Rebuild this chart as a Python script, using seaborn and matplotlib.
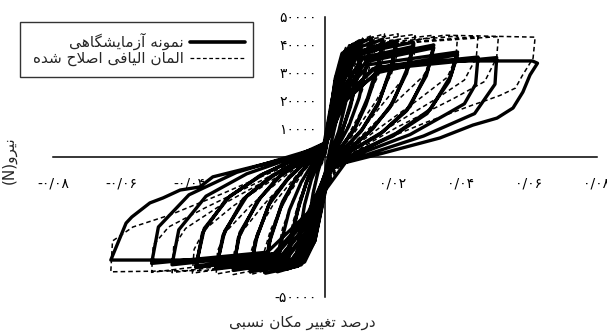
import matplotlib
matplotlib.use("Agg")
import matplotlib.pyplot as plt
from matplotlib.patches import Rectangle
from matplotlib.lines import Line2D
import seaborn as sns

# ---------------- data ----------------
# Experimental specimen: hysteresis path, one cycle per line (drift ratio, force in N)
exp_drift = [
    -0.001, 0.001, 0.003, 0.005, 0.0045, 0.0035, 0.002, 0.001, -0.001, -0.003, -0.005, -0.0045, -0.0035, -0.002, -0.001,
    -0.001, 0.002, 0.004, 0.008, 0.0075, 0.006, 0.004, 0.0015, -0.001, -0.003, -0.005, -0.008, -0.0075, -0.006, -0.004, -0.0015,
    0.000, 0.003, 0.005, 0.0105, 0.0098, 0.008, 0.0055, 0.0025, 0.000, -0.003, -0.006, -0.011, -0.0102, -0.008, -0.0055, -0.0025,
    0.000, 0.0035, 0.006, 0.0105, 0.0097, 0.0075, 0.005, 0.002, -0.0005, -0.0035, -0.0065, -0.011, -0.0100, -0.0075, -0.005, -0.002,
    0.000, 0.003, 0.006, 0.0135, 0.0125, 0.010, 0.007, 0.003, 0.0005, -0.003, -0.007, -0.014, -0.013, -0.0105, -0.007, -0.003,
    0.000, 0.003, 0.007, 0.017, 0.0158, 0.0125, 0.009, 0.004, 0.0005, -0.003, -0.008, -0.0175, -0.0165, -0.013, -0.009, -0.004,
    0.000, 0.0035, 0.008, 0.017, 0.0155, 0.012, 0.0085, 0.0035, 0.000, -0.0035, -0.009, -0.0175, -0.016, -0.0125, -0.0085, -0.0035,
    0.000, 0.003, 0.008, 0.021, 0.0198, 0.016, 0.011, 0.005, 0.001, -0.003, -0.009, -0.022, -0.0205, -0.0165, -0.011, -0.005,
    0.000, 0.0035, 0.009, 0.021, 0.0195, 0.0155, 0.0105, 0.0045, 0.0005, -0.0035, -0.010, -0.022, -0.020, -0.016, -0.0105, -0.0045,
    0.000, 0.004, 0.010, 0.026, 0.0245, 0.020, 0.014, 0.007, 0.001, -0.003, -0.010, -0.027, -0.0255, -0.020, -0.014, -0.006,
    0.000, 0.0045, 0.011, 0.026, 0.0240, 0.019, 0.013, 0.006, 0.000, -0.0035, -0.011, -0.027, -0.025, -0.019, -0.013, -0.0055,
    0.000, 0.004, 0.011, 0.032, 0.0302, 0.025, 0.017, 0.008, 0.001, -0.004, -0.012, -0.032, -0.030, -0.024, -0.016, -0.007,
    0.000, 0.0045, 0.012, 0.032, 0.0298, 0.024, 0.016, 0.0075, 0.000, -0.0045, -0.013, -0.032, -0.0295, -0.023, -0.015, -0.0065,
    0.000, 0.005, 0.013, 0.039, 0.037, 0.031, 0.021, 0.010, 0.001, -0.004, -0.013, -0.038, -0.036, -0.029, -0.019, -0.008,
    0.000, 0.0055, 0.014, 0.039, 0.0365, 0.030, 0.020, 0.009, 0.000, -0.0045, -0.014, -0.038, -0.0355, -0.028, -0.018, -0.0075,
    0.000, 0.005, 0.015, 0.045, 0.0443, 0.041, 0.036, 0.025, 0.012, 0.001, -0.005, -0.015, -0.045, -0.043, -0.035, -0.023, -0.010,
    0.000, 0.006, 0.017, 0.0505, 0.050, 0.044, 0.029, 0.014, 0.001, -0.005, -0.017, -0.051, -0.049, -0.040, -0.026, -0.011,
    0.000, 0.006, 0.015, 0.031, 0.061, 0.0625, 0.0603, 0.0582, 0.0553, 0.0506, 0.0435, 0.0338, 0.0171, 0.006,
    0.000, -0.005, -0.012, -0.030, -0.063, -0.0585, -0.0568, -0.0515, -0.0476, -0.0426, -0.0368, -0.033, -0.0132, -0.0015,
]
exp_force = [
    -2000, 12000, 22000, 28000, 22000, 14000, 6000, 0, -12000, -21000, -27000, -21000, -13000, -5000, -1000,
    0, 20000, 31000, 37000, 30000, 19000, 9000, 1000, -15000, -27000, -33000, -36000, -28000, -17000, -8000, -1000,
    2000, 28000, 37000, 41500, 33000, 21000, 11000, 2000, -12000, -30000, -37500, -40000, -31000, -19000, -9000, -1500,
    1000, 26000, 35500, 39500, 30000, 18000, 9000, 1000, -13000, -29000, -36000, -38500, -28500, -16500, -7500, -1000,
    3000, 27000, 38000, 42500, 34000, 21000, 11000, 2000, -10000, -30000, -38500, -41000, -31000, -19000, -9000, -1000,
    4000, 26000, 38000, 42000, 34000, 21000, 11000, 2000, -8000, -29000, -39000, -41500, -31000, -18000, -8500, -1000,
    2000, 24000, 36500, 40500, 31000, 18500, 9500, 1500, -9000, -28000, -37500, -40000, -28500, -16000, -7500, -500,
    4000, 24000, 37000, 41500, 33500, 20000, 10000, 2000, -7000, -27000, -38500, -41000, -30000, -17000, -8000, -1000,
    3000, 22500, 36000, 40500, 31500, 18500, 9000, 1500, -8000, -26000, -37000, -40000, -28500, -15500, -7000, -500,
    4000, 24000, 37000, 41000, 32500, 19500, 10000, 2500, -6000, -25000, -37500, -40500, -29000, -16000, -7500, -1000,
    3000, 22500, 35500, 39500, 30000, 17500, 9000, 2000, -7000, -24000, -36000, -39500, -27000, -14500, -6500, -500,
    5000, 22000, 35000, 40000, 31000, 18000, 9000, 2500, -5000, -24000, -37000, -40000, -28000, -15000, -7000, -1000,
    4000, 21000, 34000, 39000, 29000, 16500, 8000, 2000, -6000, -23000, -36000, -39500, -26500, -14000, -6500, -500,
    5000, 22000, 33000, 37500, 29000, 17000, 8500, 2000, -5000, -22000, -35500, -39500, -27000, -15000, -6500, -500,
    4000, 20500, 31500, 36500, 27000, 15500, 7500, 1500, -6000, -21000, -34500, -39000, -25500, -14000, -6000, 0,
    5000, 21000, 32000, 35700, 26000, 19000, 15500, 8000, 2000, -5000, -21000, -34500, -38500, -26000, -14000, -6000, -500,
    5000, 21000, 31500, 35500, 26000, 15500, 7500, 1500, -4000, -20000, -34000, -38000, -25000, -13500, -5500, 0,
    4000, 20000, 30000, 34300, 34300, 33500, 29300, 23200, 17500, 13900, 11400, 6800, 1400, -2000,
    -12000, -28000, -35500, -36800, -36800, -23600, -21400, -16400, -14600, -11800, -10700, -7100, -1100, 2500,
]

# Modified fibre element model: hysteresis path, one cycle per line
mdl_drift = [
    -0.001, 0.001, 0.003, 0.005, 0.0049, 0.0038, 0.0022, 0.0008, -0.001, -0.003, -0.005, -0.0049, -0.0038, -0.0022, -0.001,
    -0.0008, 0.002, 0.004, 0.008, 0.0079, 0.0068, 0.0045, 0.0015, -0.001, -0.003, -0.005, -0.008, -0.0079, -0.0068, -0.0045, -0.0015,
    0.000, 0.003, 0.006, 0.011, 0.0108, 0.0098, 0.0075, 0.004, 0.001, -0.002, -0.005, -0.011, -0.0108, -0.0098, -0.0075, -0.004, -0.001,
    0.000, 0.003, 0.007, 0.014, 0.0138, 0.0125, 0.0095, 0.005, 0.0015, -0.002, -0.006, -0.014, -0.0138, -0.0125, -0.0095, -0.005, -0.0015,
    0.000, 0.003, 0.008, 0.0175, 0.0173, 0.0158, 0.012, 0.0065, 0.002, -0.002, -0.007, -0.018, -0.0178, -0.016, -0.012, -0.0065, -0.002,
    0.000, 0.003, 0.009, 0.0215, 0.0212, 0.0195, 0.015, 0.008, 0.002, -0.002, -0.008, -0.022, -0.0218, -0.0198, -0.015, -0.008, -0.002,
    0.000, 0.004, 0.010, 0.0265, 0.0262, 0.024, 0.018, 0.010, 0.003, -0.002, -0.009, -0.027, -0.0267, -0.0243, -0.018, -0.010, -0.003,
    0.000, 0.004, 0.011, 0.032, 0.0316, 0.029, 0.022, 0.012, 0.003, -0.002, -0.010, -0.032, -0.0316, -0.029, -0.022, -0.012, -0.003,
    0.000, 0.005, 0.013, 0.039, 0.0385, 0.036, 0.028, 0.015, 0.004, -0.002, -0.011, -0.039, -0.0385, -0.0355, -0.027, -0.014, -0.004,
    0.000, 0.005, 0.014, 0.045, 0.0445, 0.041, 0.033, 0.018, 0.005, -0.002, -0.012, -0.045, -0.0445, -0.041, -0.031, -0.016, -0.004,
    0.000, 0.006, 0.015, 0.051, 0.0505, 0.047, 0.038, 0.021, 0.006, -0.002, -0.013, -0.051, -0.0505, -0.046, -0.035, -0.018, -0.005,
    0.000, 0.006, 0.016, 0.035, 0.0618, 0.0612, 0.058, 0.056, 0.0515, 0.0476, 0.0435, 0.030, 0.015, 0.004,
    -0.002, -0.014, -0.035, -0.063, -0.0625, -0.0565, -0.0456, -0.030, -0.012, -0.002,
]
mdl_force = [
    -3000, 14000, 25000, 31000, 24000, 15000, 6000, 0, -13000, -24000, -30000, -23000, -14000, -5000, -1000,
    0, 22000, 33000, 39000, 32000, 24000, 11000, 1000, -16000, -28000, -34500, -37500, -30000, -21000, -9000, -500,
    2000, 29000, 39000, 42500, 35000, 28000, 18000, 6000, -2000, -22000, -35000, -40000, -32000, -25000, -15000, -5000, 1000,
    3000, 28000, 40000, 43500, 36000, 29000, 19000, 6500, -2000, -22000, -36500, -41000, -33000, -25500, -15500, -5000, 1000,
    3000, 27000, 40500, 44000, 36500, 29500, 19500, 7000, -1500, -21000, -37000, -41500, -33500, -26000, -16000, -5500, 1000,
    3000, 26000, 41000, 44000, 36500, 29500, 20000, 7500, -1000, -20000, -37500, -42000, -34000, -26500, -16500, -6000, 1000,
    3000, 27000, 41000, 43800, 36500, 29500, 20500, 8500, -1000, -19000, -37500, -42000, -34000, -26500, -17000, -6500, 1000,
    3500, 26000, 40500, 43500, 36000, 29000, 21000, 9000, -1000, -18000, -37000, -41800, -33500, -26500, -17500, -7000, 1000,
    3500, 26000, 40500, 43200, 35500, 28500, 21000, 9500, -500, -17000, -36500, -41500, -33000, -26000, -17500, -7000, 1000,
    3500, 25000, 40000, 43000, 35500, 27500, 21000, 10000, 0, -16000, -36000, -41300, -32000, -25500, -17500, -7500, 1000,
    3500, 25000, 40000, 43000, 35500, 27000, 21000, 10500, 0, -15000, -35500, -41200, -31500, -25000, -18000, -8000, 1000,
    3500, 25000, 39500, 43500, 42800, 35300, 29000, 24600, 22000, 20300, 18600, 12500, 5000, -1000,
    -14000, -35000, -40500, -41000, -30000, -25000, -20700, -13000, -3500, 0,
]

# axis ticks and labels (Persian digits)
x_ticks = [-0.08, -0.06, -0.04, -0.02, 0.0, 0.02, 0.04, 0.06, 0.08]
x_tick_labels = ["-۰/۰۸", "-۰/۰۶", "-۰/۰۴", "", "", "۰/۰۲", "۰/۰۴", "۰/۰۶", "۰/۰۸"]
y_ticks = [-50000, -40000, -30000, -20000, -10000, 0, 10000, 20000, 30000, 40000, 50000]
y_tick_labels = ["-۵۰۰۰۰", "", "", "", "", "", "۱۰۰۰۰", "۲۰۰۰۰", "۳۰۰۰۰", "۴۰۰۰۰", "۵۰۰۰۰"]

legend_exp = "نمونه آزمایشگاهی"
legend_mdl = "المان الیافی اصلاح شده"
x_title = "درصد تغییر مکان نسبی"
y_title = "نیرو"

# ---------------- Persian text shaping ----------------
# (isolated, final, initial, medial) presentation forms
FORMS = {
    "ا": ("\uFE8D", "\uFE8E", None, None),
    "آ": ("\uFE81", "\uFE82", None, None),
    "ب": ("\uFE8F", "\uFE90", "\uFE91", "\uFE92"),
    "ت": ("\uFE95", "\uFE96", "\uFE97", "\uFE98"),
    "ح": ("\uFEA1", "\uFEA2", "\uFEA3", "\uFEA4"),
    "د": ("\uFEA9", "\uFEAA", None, None),
    "ر": ("\uFEAD", "\uFEAE", None, None),
    "ز": ("\uFEAF", "\uFEB0", None, None),
    "س": ("\uFEB1", "\uFEB2", "\uFEB3", "\uFEB4"),
    "ش": ("\uFEB5", "\uFEB6", "\uFEB7", "\uFEB8"),
    "ص": ("\uFEB9", "\uFEBA", "\uFEBB", "\uFEBC"),
    "غ": ("\uFECD", "\uFECE", "\uFECF", "\uFED0"),
    "ف": ("\uFED1", "\uFED2", "\uFED3", "\uFED4"),
    "ل": ("\uFEDD", "\uFEDE", "\uFEDF", "\uFEE0"),
    "م": ("\uFEE1", "\uFEE2", "\uFEE3", "\uFEE4"),
    "ن": ("\uFEE5", "\uFEE6", "\uFEE7", "\uFEE8"),
    "ه": ("\uFEE9", "\uFEEA", "\uFEEB", "\uFEEC"),
    "و": ("\uFEED", "\uFEEE", None, None),
    "ی": ("\uFBFC", "\uFBFD", "\uFBFE", "\uFBFF"),
    "ک": ("\uFB8E", "\uFB8F", "\uFB90", "\uFB91"),
    "گ": ("\uFB92", "\uFB93", "\uFB94", "\uFB95"),
    "لا": ("\uFEFB", "\uFEFC", None, None),
}


def shape_fa(text):
    """Join Persian letters into contextual forms and return them in visual order."""
    chars, i = [], 0
    while i < len(text):
        if text[i] == "ل" and i + 1 < len(text) and text[i + 1] == "ا":
            chars.append("لا")
            i += 2
        else:
            chars.append(text[i])
            i += 1
    out = []
    for k, c in enumerate(chars):
        if c not in FORMS:
            out.append(c)
            continue
        iso, fin, ini, med = FORMS[c]
        prev = chars[k - 1] if k > 0 else None
        nxt = chars[k + 1] if k + 1 < len(chars) else None
        joins_prev = prev in FORMS and FORMS[prev][2] is not None
        joins_next = ini is not None and nxt in FORMS
        if joins_prev and joins_next:
            out.append(med)
        elif joins_prev:
            out.append(fin)
        elif joins_next:
            out.append(ini)
        else:
            out.append(iso)
    return "".join(reversed(out))


# ---------------- figure ----------------
sns.set_style("white")
plt.rcParams["font.family"] = ["DejaVu Sans"]

W, H = 607, 335
fig = plt.figure(figsize=(W / 100, H / 100), dpi=100)
ax = fig.add_axes([53 / W, 38 / H, 544 / W, 280 / H])

sns.lineplot(x=mdl_drift, y=mdl_force, sort=False, estimator=None, color="black",
             lw=1.1, linestyle=(0, (3, 2)), ax=ax, zorder=3)
sns.lineplot(x=exp_drift, y=exp_force, sort=False, estimator=None, color="black",
             lw=2.4, ax=ax, zorder=4)

ax.set_xlim(-0.08, 0.08)
ax.set_ylim(-50000, 50000)
ax.set_xlabel("")
ax.set_ylabel("")

for side in ("top", "right"):
    ax.spines[side].set_visible(False)
ax.spines["left"].set_position(("data", 0))
ax.spines["bottom"].set_position(("data", 0))
for side in ("left", "bottom"):
    ax.spines[side].set_color("black")
    ax.spines[side].set_linewidth(1.1)

ax.set_xticks(x_ticks)
ax.set_xticklabels(x_tick_labels)
ax.set_yticks(y_ticks)
ax.set_yticklabels(y_tick_labels)
ax.tick_params(axis="x", direction="in", length=4, width=1, pad=14, labelsize=10, colors="black")
ax.tick_params(axis="y", direction="out", length=4, width=1, pad=2, labelsize=10, colors="black")

# legend box (right-to-left: sample line on the right of its text)
fig.patches.append(Rectangle((20 / W, 1 - 77 / H), 233 / W, 55 / H, transform=fig.transFigure,
                             facecolor="white", edgecolor="#333333", lw=1.0, zorder=5))
fig.lines.append(Line2D([190 / W, 245 / W], [1 - 42 / H] * 2, transform=fig.transFigure,
                        color="black", lw=2.6, zorder=6))
fig.lines.append(Line2D([190 / W, 245 / W], [1 - 58 / H] * 2, transform=fig.transFigure,
                        color="black", lw=0.9, linestyle=(0, (3, 2)), zorder=6))
fig.text(184 / W, 1 - 41 / H, shape_fa(legend_exp), ha="right", va="center", fontsize=11, zorder=7)
fig.text(184 / W, 1 - 58 / H, shape_fa(legend_mdl), ha="right", va="center", fontsize=11, zorder=7)

# axis titles
fig.text(9 / W, 1 - 160 / H, "(N)" + shape_fa(y_title), rotation=90, ha="center", va="center", fontsize=11)
fig.text(302 / W, 1 - 322 / H, shape_fa(x_title), ha="center", va="center", fontsize=11)

fig.savefig("out.png", dpi=100)
